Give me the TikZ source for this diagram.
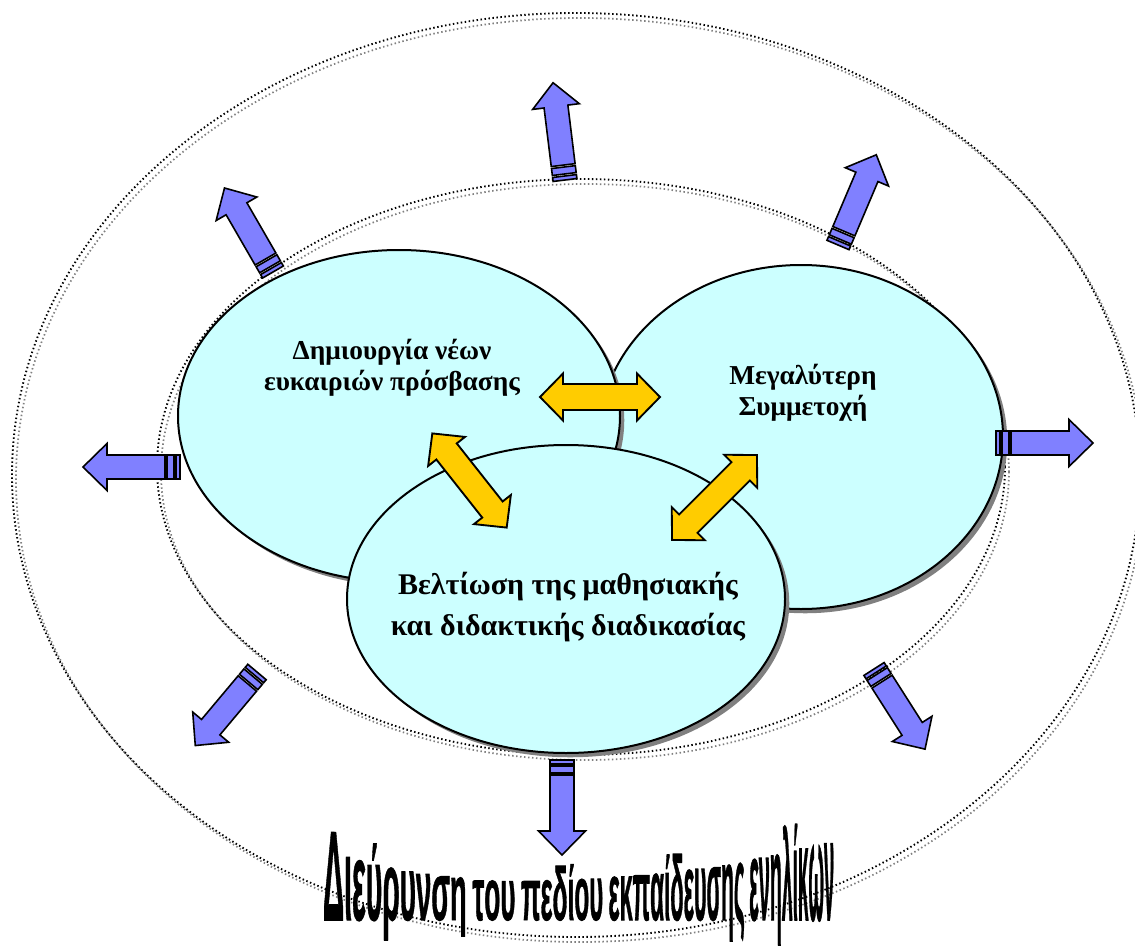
\documentclass[tikz,border=0pt]{standalone}
\usepackage{fontspec}
\usepackage{graphicx}
\setmainfont{Liberation Serif}
\newfontfamily\wafont[BoldFeatures={FakeBold=1.2}]{Liberation Sans}
\usetikzlibrary{shapes.geometric,shadows}
\definecolor{cyanfill}{HTML}{CCFFFF}
\definecolor{bluefill}{HTML}{8080FF}
\definecolor{yellowfill}{HTML}{FFCC00}
\definecolor{shadowgray}{HTML}{808080}
\tikzset{
  dotline/.style={draw=black, line width=1.4pt, dash pattern=on 1.1pt off 1.9pt},
  dotshadow/.style={draw=shadowgray, line width=1.3pt, dash pattern=on 1.1pt off 1.9pt},
  mainell/.style={ellipse, draw=black, line width=1.5pt, fill=cyanfill, inner sep=0pt,
    general shadow={fill=shadowgray, shadow xshift=3.2pt, shadow yshift=-3.2pt}},
  ltext/.style={align=center, font=\bfseries\fontsize{20.5}{23.5}\selectfont},
  btext/.style={align=center, font=\bfseries\fontsize{22.5}{31}\selectfont},
  blarrow/.style={draw=black, line width=1.2pt, fill=bluefill, line join=miter},
  ylarrow/.style={draw=black, line width=1.4pt, fill=yellowfill, line join=miter},
  wachar/.style={inner sep=0pt, outer sep=0pt, anchor=base west,
    font=\wafont\bfseries\fontsize{18}{20}\selectfont}
}
% blue arrow: tail point, angle, length (px)
\newcommand\bluearrow[3]{%
  \begin{scope}[shift={(#1)}, x=0.75pt, y=0.75pt, rotate=#2]
    \filldraw[blarrow] (0,-12) rectangle (4,12);
    \filldraw[blarrow] (6,-12) rectangle (13,12);
    \filldraw[blarrow] (15,-12) -- (#3-24,-12) -- (#3-24,-23.5) -- (#3,0)
      -- (#3-24,23.5) -- (#3-24,12) -- (15,12) -- cycle;
  \end{scope}}
% yellow double arrow: centre, angle
\newcommand\yellowarrow[2]{%
  \begin{scope}[shift={(#1)}, x=0.75pt, y=0.75pt, rotate=#2]
    \filldraw[ylarrow] (-60,0) -- (-37,23.5) -- (-37,13) -- (37,13) -- (37,23.5)
      -- (60,0) -- (37,-23.5) -- (37,-13) -- (-37,-13) -- (-37,-23.5) -- cycle;
  \end{scope}}
\begin{document}
\begin{tikzpicture}[x=0.75pt, y=-0.75pt]
\useasboundingbox (0,0) rectangle (1135,949);
% outer and inner dotted ellipses
\draw[dotshadow] (580,480) ellipse [x radius=564, y radius=462];
\draw[dotline] (576,475) ellipse [x radius=564, y radius=462];
\draw[dotshadow] (585,472) ellipse [x radius=424, y radius=288];
\draw[dotline] (581,467) ellipse [x radius=424, y radius=288];
% main ellipses
\node[mainell, minimum width=303pt, minimum height=258pt] (right) at (801,437) {};
\node[mainell, minimum width=331.5pt, minimum height=249pt] (left) at (399,416) {};
\node[mainell, minimum width=328.5pt, minimum height=231pt] (bottom) at (566,599) {};
% texts
\node[ltext] (lefttext) at (392,368) {Δημιουργία νέων\\ευκαιριών πρόσβασης};
\node[ltext] (righttext) at (803,393) {Μεγαλύτερη\\Συμμετοχή};
\node[btext] (bottomtext) at (568,607) {Βελτίωση της μαθησιακής\\και διδακτικής διαδικασίας};
% yellow double arrows
\yellowarrow{600,397}{0}
\yellowarrow{469.5,480.5}{-51.7}
\yellowarrow{714.5,497.5}{45}
% blue arrows
\bluearrow{565,180}{97}{98}
\bluearrow{838,245}{67}{98}
\bluearrow{273,272}{120}{97}
\bluearrow{180,467}{180}{97}
\bluearrow{996,443}{0}{97}
\bluearrow{257,672}{230}{96}
\bluearrow{874,669}{-57.5}{95}
\bluearrow{562,760}{-90}{95}
% word-art title
\coordinate (w0) at (323,920);
\foreach \ch [count=\i] in {Δ,ι,ε,ύ,ρ,υ,ν,σ,η,-,τ,ο,υ,-,π,ε,δ,ί,ο,υ,-,ε,κ,π,α,ί,δ,ε,υ,σ,η,ς,-,ε,ν,η,λ,ί,κ,ω,ν}{
  \pgfmathtruncatemacro\j{\i-1}
  \pgfmathsetmacro\t{(\i-1)/40}
  \pgfmathsetmacro\h{\t<0.3 ? 38+28*((\t-0.3)/0.3)^2 : 38+37*((\t-0.3)/0.7)^2}
  \pgfmathsetmacro\sy{\h/12.45}
  \pgfmathsetmacro\sx{1.22-0.46*\t}
  \ifnum\i=1
    \node[wachar] (w\i) at (w0) {\scalebox{\sx}[\sy]{\ch}};
  \else
    \node[wachar] (w\i) at (w\j.base east) {\if-\ch\hspace*{\sx\dimexpr0.22em\relax}\else\scalebox{\sx}[\sy]{\ch}\fi};
  \fi
}
\end{tikzpicture}
\end{document}
